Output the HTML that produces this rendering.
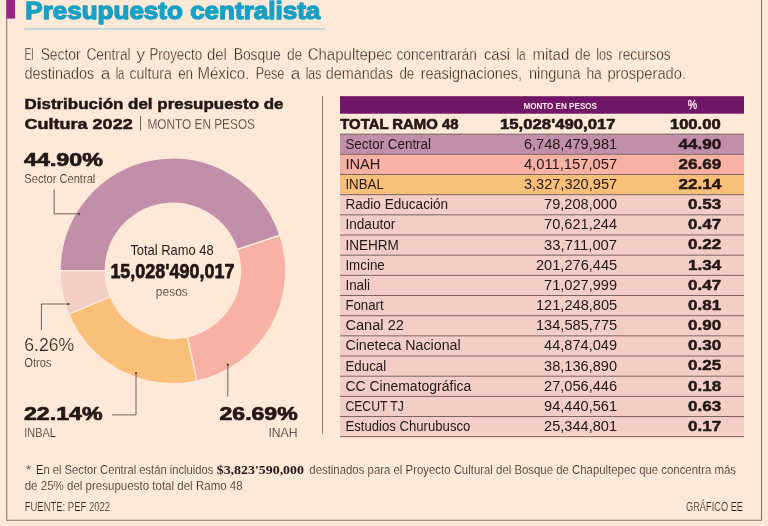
<!DOCTYPE html>
<html lang="es"><head><meta charset="utf-8"><title>Presupuesto centralista</title>
<style>html,body{margin:0;padding:0;background:#fee8d8;}svg{display:block}text{white-space:pre}</style></head>
<body><svg width="768" height="526" viewBox="0 0 768 526">
<rect x="0" y="0" width="768" height="526" fill="#fee8d8"/>
<path d="M6.7 0 V520.25 H761.5 V0" fill="none" stroke="#8f7868" stroke-width="1.1"/>
<rect x="6.5" y="0" width="8.6" height="18.6" fill="#982488"/>
<text x="25.3" y="19.3" font-size="23.7" font-weight="700" fill="#16a0c4" font-family="'Liberation Sans', sans-serif" textLength="295" lengthAdjust="spacingAndGlyphs" stroke="#16a0c4" stroke-width="1.3" stroke-linejoin="round">Presupuesto centralista</text>
<rect x="24" y="28.1" width="301" height="1.7" fill="#bcd3d8"/>
<text y="60.3" font-size="17.2" font-weight="400" fill="#2e2420" font-family="'Liberation Sans', sans-serif" stroke="#fee8d8" stroke-width="0.36" stroke-linejoin="round"><tspan x="24.4" textLength="9.2" lengthAdjust="spacingAndGlyphs">El</tspan> <tspan x="40.65" textLength="39.95" lengthAdjust="spacingAndGlyphs">Sector</tspan> <tspan x="86.4" textLength="44.2" lengthAdjust="spacingAndGlyphs">Central</tspan> <tspan x="136.4">y</tspan> <tspan x="149.4" textLength="52.7" lengthAdjust="spacingAndGlyphs">Proyecto</tspan> <tspan x="206.9" textLength="19.95" lengthAdjust="spacingAndGlyphs">del</tspan> <tspan x="233.65" textLength="46.95" lengthAdjust="spacingAndGlyphs">Bosque</tspan> <tspan x="286.9" textLength="15.45" lengthAdjust="spacingAndGlyphs">de</tspan> <tspan x="307.65" textLength="84.45" lengthAdjust="spacingAndGlyphs">Chapultepec</tspan> <tspan x="396.4" textLength="80.45" lengthAdjust="spacingAndGlyphs">concentrarán</tspan> <tspan x="483.9" textLength="26.2" lengthAdjust="spacingAndGlyphs">casi</tspan> <tspan x="516.4" textLength="9.2" lengthAdjust="spacingAndGlyphs">la</tspan> <tspan x="532.4" textLength="36.95" lengthAdjust="spacingAndGlyphs">mitad</tspan> <tspan x="574.9" textLength="15.7" lengthAdjust="spacingAndGlyphs">de</tspan> <tspan x="596.15" textLength="16.2" lengthAdjust="spacingAndGlyphs">los</tspan> <tspan x="618.15" textLength="52.45" lengthAdjust="spacingAndGlyphs">recursos</tspan></text>
<text y="79.4" font-size="17.2" font-weight="400" fill="#2e2420" font-family="'Liberation Sans', sans-serif" stroke="#fee8d8" stroke-width="0.36" stroke-linejoin="round"><tspan x="24.4" textLength="69.95" lengthAdjust="spacingAndGlyphs">destinados</tspan> <tspan x="100.65">a</tspan> <tspan x="115.65" textLength="8.7" lengthAdjust="spacingAndGlyphs">la</tspan> <tspan x="129.4" textLength="42.45" lengthAdjust="spacingAndGlyphs">cultura</tspan> <tspan x="178.15" textLength="14.95" lengthAdjust="spacingAndGlyphs">en</tspan> <tspan x="197.4" textLength="51.95" lengthAdjust="spacingAndGlyphs">México.</tspan> <tspan x="255.65" textLength="28.7" lengthAdjust="spacingAndGlyphs">Pese</tspan> <tspan x="290.65">a</tspan> <tspan x="305.65" textLength="15.7" lengthAdjust="spacingAndGlyphs">las</tspan> <tspan x="325.65" textLength="67.45" lengthAdjust="spacingAndGlyphs">demandas</tspan> <tspan x="399.4" textLength="14.95" lengthAdjust="spacingAndGlyphs">de</tspan> <tspan x="420.65" textLength="101.45" lengthAdjust="spacingAndGlyphs">reasignaciones,</tspan> <tspan x="528.9" textLength="51.7" lengthAdjust="spacingAndGlyphs">ninguna</tspan> <tspan x="586.4" textLength="15.45" lengthAdjust="spacingAndGlyphs">ha</tspan> <tspan x="607.4" textLength="78.7" lengthAdjust="spacingAndGlyphs">prosperado.</tspan></text>
<text x="24.5" y="109" font-size="15.4" font-weight="700" fill="#231815" font-family="'Liberation Sans', sans-serif" textLength="259" lengthAdjust="spacingAndGlyphs" stroke="#231815" stroke-width="0.5" stroke-linejoin="round">Distribución del presupuesto de</text>
<text x="24.5" y="128.6" font-size="15.4" font-weight="700" fill="#231815" font-family="'Liberation Sans', sans-serif" textLength="108.2" lengthAdjust="spacingAndGlyphs" stroke="#231815" stroke-width="0.5" stroke-linejoin="round">Cultura 2022</text>
<line x1="140.5" y1="116" x2="140.5" y2="130.5" stroke="#4d403b" stroke-width="0.8"/>
<text x="147.4" y="128.8" font-size="14.3" font-weight="400" fill="#2e2420" font-family="'Liberation Sans', sans-serif" textLength="107.6" lengthAdjust="spacingAndGlyphs" stroke="#fee8d8" stroke-width="0.3" stroke-linejoin="round">MONTO EN PESOS</text>
<line x1="322.6" y1="96.2" x2="322.6" y2="434.2" stroke="#7d6260" stroke-width="0.9"/>
<path d="M60.05 270.80 A112.85 112.85 0 0 1 280.02 235.28 L237.02 249.54 A67.55 67.55 0 0 0 105.35 270.80 Z" fill="#c28fab" stroke="#fee8d8" stroke-width="1.4"/>
<path d="M280.02 235.28 A112.85 112.85 0 0 1 196.84 381.08 L187.23 336.81 A67.55 67.55 0 0 0 237.02 249.54 Z" fill="#f7b1a5" stroke="#fee8d8" stroke-width="1.4"/>
<path d="M196.84 381.08 A112.85 112.85 0 0 1 68.67 314.06 L110.51 296.69 A67.55 67.55 0 0 0 187.23 336.81 Z" fill="#fac07a" stroke="#fee8d8" stroke-width="1.4"/>
<path d="M68.67 314.06 A112.85 112.85 0 0 1 60.05 270.80 L105.35 270.80 A67.55 67.55 0 0 0 110.51 296.69 Z" fill="#f2cec7" stroke="#fee8d8" stroke-width="1.4"/>
<text x="130.4" y="255.4" font-size="14.5" font-weight="400" fill="#231815" font-family="'Liberation Sans', sans-serif" textLength="83.3" lengthAdjust="spacingAndGlyphs">Total Ramo 48</text>
<text x="110.4" y="278.2" font-size="20.9" font-weight="700" fill="#231815" font-family="'Liberation Sans', sans-serif" textLength="124" lengthAdjust="spacingAndGlyphs" stroke="#231815" stroke-width="0.75" stroke-linejoin="round">15,028'490,017</text>
<text x="155.8" y="296.2" font-size="12" font-weight="400" fill="#2e2420" font-family="'Liberation Sans', sans-serif" textLength="32" lengthAdjust="spacingAndGlyphs" stroke="#fee8d8" stroke-width="0.2" stroke-linejoin="round">pesos</text>
<text x="24" y="166.1" font-size="18.3" font-weight="700" fill="#231815" font-family="'Liberation Sans', sans-serif" textLength="79" lengthAdjust="spacingAndGlyphs" stroke="#231815" stroke-width="0.7" stroke-linejoin="round">44.90%</text>
<text x="24.3" y="182.7" font-size="12.8" font-weight="400" fill="#2e2420" font-family="'Liberation Sans', sans-serif" textLength="71" lengthAdjust="spacingAndGlyphs" stroke="#fee8d8" stroke-width="0.2" stroke-linejoin="round">Sector Central</text>
<text x="24.3" y="350.6" font-size="17.6" font-weight="400" fill="#2e2420" font-family="'Liberation Sans', sans-serif" textLength="50" lengthAdjust="spacingAndGlyphs" stroke="#fee8d8" stroke-width="0.2" stroke-linejoin="round">6.26%</text>
<text x="24.3" y="366.8" font-size="12.5" font-weight="400" fill="#2e2420" font-family="'Liberation Sans', sans-serif" textLength="27.2" lengthAdjust="spacingAndGlyphs" stroke="#fee8d8" stroke-width="0.2" stroke-linejoin="round">Otros</text>
<text x="24" y="420.2" font-size="18.3" font-weight="700" fill="#231815" font-family="'Liberation Sans', sans-serif" textLength="78.5" lengthAdjust="spacingAndGlyphs" stroke="#231815" stroke-width="0.7" stroke-linejoin="round">22.14%</text>
<text x="24.3" y="437.2" font-size="12.2" font-weight="400" fill="#2e2420" font-family="'Liberation Sans', sans-serif" textLength="31.4" lengthAdjust="spacingAndGlyphs" stroke="#fee8d8" stroke-width="0.2" stroke-linejoin="round">INBAL</text>
<text x="219.5" y="420.3" font-size="18.3" font-weight="700" fill="#231815" font-family="'Liberation Sans', sans-serif" textLength="78.2" lengthAdjust="spacingAndGlyphs" stroke="#231815" stroke-width="0.7" stroke-linejoin="round">26.69%</text>
<text x="268.4" y="437.4" font-size="12.2" font-weight="400" fill="#2e2420" font-family="'Liberation Sans', sans-serif" textLength="29.1" lengthAdjust="spacingAndGlyphs" stroke="#fee8d8" stroke-width="0.2" stroke-linejoin="round">INAH</text>
<path d="M54.2 189.7 V213.8 H79" fill="none" stroke="#4d403b" stroke-width="0.8"/><circle cx="79" cy="213.8" r="1.1" fill="#4d403b"/>
<path d="M41.4 330 V304 H68.5" fill="none" stroke="#4d403b" stroke-width="0.8"/><circle cx="68.5" cy="304" r="1.1" fill="#4d403b"/>
<path d="M112.2 414.9 H136 V373.2" fill="none" stroke="#4d403b" stroke-width="0.8"/><circle cx="136" cy="373.2" r="1.1" fill="#4d403b"/>
<path d="M227.8 396.6 V364.7" fill="none" stroke="#4d403b" stroke-width="0.8"/><circle cx="227.8" cy="364.7" r="1.1" fill="#4d403b"/>
<rect x="340" y="96.2" width="404" height="17.5" fill="#701867"/>
<text x="523.4" y="108.9" font-size="9" font-weight="700" fill="#fdeef2" font-family="'Liberation Sans', sans-serif" textLength="73.6" lengthAdjust="spacingAndGlyphs">MONTO EN PESOS</text>
<text x="687.8" y="108.9" font-size="12" font-weight="400" fill="#fdeef2" font-family="'Liberation Sans', sans-serif" textLength="9.4" lengthAdjust="spacingAndGlyphs" stroke="#fdeef2" stroke-width="0.3" stroke-linejoin="round">%</text>
<text x="340.3" y="128.65" font-size="14.6" font-weight="700" fill="#231815" font-family="'Liberation Sans', sans-serif" textLength="118.2" lengthAdjust="spacingAndGlyphs" stroke="#231815" stroke-width="0.6" stroke-linejoin="round">TOTAL RAMO 48</text>
<text x="500" y="128.65" font-size="14.6" font-weight="700" fill="#231815" font-family="'Liberation Sans', sans-serif" textLength="115.6" lengthAdjust="spacingAndGlyphs" stroke="#231815" stroke-width="0.6" stroke-linejoin="round">15,028'490,017</text>
<text x="669.9" y="128.65" font-size="14.6" font-weight="700" fill="#231815" font-family="'Liberation Sans', sans-serif" textLength="50.8" lengthAdjust="spacingAndGlyphs" stroke="#231815" stroke-width="0.6" stroke-linejoin="round">100.00</text>
<rect x="340" y="134.15" width="404" height="20.17" fill="#c28fab"/>
<rect x="340" y="154.32" width="404" height="20.17" fill="#f7b1a5"/>
<rect x="340" y="174.49" width="404" height="20.17" fill="#fac07a"/>
<rect x="340" y="194.66" width="404" height="20.17" fill="#f2cec7"/>
<rect x="340" y="214.83" width="404" height="20.17" fill="#f2cec7"/>
<rect x="340" y="235.00" width="404" height="20.17" fill="#f2cec7"/>
<rect x="340" y="255.17" width="404" height="20.17" fill="#f2cec7"/>
<rect x="340" y="275.34" width="404" height="20.17" fill="#f2cec7"/>
<rect x="340" y="295.51" width="404" height="20.17" fill="#f2cec7"/>
<rect x="340" y="315.68" width="404" height="20.17" fill="#f2cec7"/>
<rect x="340" y="335.85" width="404" height="20.17" fill="#f2cec7"/>
<rect x="340" y="356.02" width="404" height="20.17" fill="#f2cec7"/>
<rect x="340" y="376.19" width="404" height="20.17" fill="#f2cec7"/>
<rect x="340" y="396.36" width="404" height="20.17" fill="#f2cec7"/>
<rect x="340" y="416.53" width="404" height="20.17" fill="#f2cec7"/>
<line x1="340" y1="134.15" x2="744" y2="134.15" stroke="#7d6260" stroke-width="1"/>
<line x1="340" y1="154.32" x2="744" y2="154.32" stroke="#7d6260" stroke-width="1"/>
<line x1="340" y1="174.49" x2="744" y2="174.49" stroke="#7d6260" stroke-width="1"/>
<line x1="340" y1="194.66" x2="744" y2="194.66" stroke="#7d6260" stroke-width="1"/>
<line x1="340" y1="214.83" x2="744" y2="214.83" stroke="#7d6260" stroke-width="1"/>
<line x1="340" y1="235.00" x2="744" y2="235.00" stroke="#7d6260" stroke-width="1"/>
<line x1="340" y1="255.17" x2="744" y2="255.17" stroke="#7d6260" stroke-width="1"/>
<line x1="340" y1="275.34" x2="744" y2="275.34" stroke="#7d6260" stroke-width="1"/>
<line x1="340" y1="295.51" x2="744" y2="295.51" stroke="#7d6260" stroke-width="1"/>
<line x1="340" y1="315.68" x2="744" y2="315.68" stroke="#7d6260" stroke-width="1"/>
<line x1="340" y1="335.85" x2="744" y2="335.85" stroke="#7d6260" stroke-width="1"/>
<line x1="340" y1="356.02" x2="744" y2="356.02" stroke="#7d6260" stroke-width="1"/>
<line x1="340" y1="376.19" x2="744" y2="376.19" stroke="#7d6260" stroke-width="1"/>
<line x1="340" y1="396.36" x2="744" y2="396.36" stroke="#7d6260" stroke-width="1"/>
<line x1="340" y1="416.53" x2="744" y2="416.53" stroke="#7d6260" stroke-width="1"/>
<line x1="340" y1="436.70" x2="744" y2="436.70" stroke="#7d6260" stroke-width="1"/>
<text x="345.4" y="148.75" font-size="14" font-weight="400" fill="#231815" font-family="'Liberation Sans', sans-serif" textLength="85.6" lengthAdjust="spacingAndGlyphs">Sector Central</text>
<text x="523.9" y="148.75" font-size="14" font-weight="400" fill="#231815" font-family="'Liberation Sans', sans-serif" textLength="93.2" lengthAdjust="spacingAndGlyphs">6,748,479,981</text>
<text x="678.4" y="148.60" font-size="14.8" font-weight="700" fill="#231815" font-family="'Liberation Sans', sans-serif" textLength="42.8" lengthAdjust="spacingAndGlyphs" stroke="#231815" stroke-width="0.45" stroke-linejoin="round">44.90</text>
<text x="345.4" y="168.92" font-size="14" font-weight="400" fill="#231815" font-family="'Liberation Sans', sans-serif" textLength="35.0" lengthAdjust="spacingAndGlyphs">INAH</text>
<text x="523.9" y="168.92" font-size="14" font-weight="400" fill="#231815" font-family="'Liberation Sans', sans-serif" textLength="93.2" lengthAdjust="spacingAndGlyphs">4,011,157,057</text>
<text x="678.4" y="168.77" font-size="14.8" font-weight="700" fill="#231815" font-family="'Liberation Sans', sans-serif" textLength="42.8" lengthAdjust="spacingAndGlyphs" stroke="#231815" stroke-width="0.45" stroke-linejoin="round">26.69</text>
<text x="345.4" y="189.09" font-size="14" font-weight="400" fill="#231815" font-family="'Liberation Sans', sans-serif" textLength="38.4" lengthAdjust="spacingAndGlyphs">INBAL</text>
<text x="523.9" y="189.09" font-size="14" font-weight="400" fill="#231815" font-family="'Liberation Sans', sans-serif" textLength="93.2" lengthAdjust="spacingAndGlyphs">3,327,320,957</text>
<text x="678.4" y="188.94" font-size="14.8" font-weight="700" fill="#231815" font-family="'Liberation Sans', sans-serif" textLength="42.8" lengthAdjust="spacingAndGlyphs" stroke="#231815" stroke-width="0.45" stroke-linejoin="round">22.14</text>
<text x="345.4" y="209.26" font-size="14" font-weight="400" fill="#231815" font-family="'Liberation Sans', sans-serif" textLength="102.7" lengthAdjust="spacingAndGlyphs">Radio Educación</text>
<text x="544.1" y="209.26" font-size="14" font-weight="400" fill="#231815" font-family="'Liberation Sans', sans-serif" textLength="73.0" lengthAdjust="spacingAndGlyphs">79,208,000</text>
<text x="688.0" y="209.11" font-size="14.8" font-weight="700" fill="#231815" font-family="'Liberation Sans', sans-serif" textLength="33.2" lengthAdjust="spacingAndGlyphs" stroke="#231815" stroke-width="0.45" stroke-linejoin="round">0.53</text>
<text x="345.4" y="229.43" font-size="14" font-weight="400" fill="#231815" font-family="'Liberation Sans', sans-serif" textLength="50.0" lengthAdjust="spacingAndGlyphs">Indautor</text>
<text x="544.1" y="229.43" font-size="14" font-weight="400" fill="#231815" font-family="'Liberation Sans', sans-serif" textLength="73.0" lengthAdjust="spacingAndGlyphs">70,621,244</text>
<text x="688.0" y="229.28" font-size="14.8" font-weight="700" fill="#231815" font-family="'Liberation Sans', sans-serif" textLength="33.2" lengthAdjust="spacingAndGlyphs" stroke="#231815" stroke-width="0.45" stroke-linejoin="round">0.47</text>
<text x="345.4" y="249.60" font-size="14" font-weight="400" fill="#231815" font-family="'Liberation Sans', sans-serif" textLength="53.5" lengthAdjust="spacingAndGlyphs">INEHRM</text>
<text x="544.1" y="249.60" font-size="14" font-weight="400" fill="#231815" font-family="'Liberation Sans', sans-serif" textLength="73.0" lengthAdjust="spacingAndGlyphs">33,711,007</text>
<text x="688.0" y="249.45" font-size="14.8" font-weight="700" fill="#231815" font-family="'Liberation Sans', sans-serif" textLength="33.2" lengthAdjust="spacingAndGlyphs" stroke="#231815" stroke-width="0.45" stroke-linejoin="round">0.22</text>
<text x="345.4" y="269.77" font-size="14" font-weight="400" fill="#231815" font-family="'Liberation Sans', sans-serif" textLength="39.4" lengthAdjust="spacingAndGlyphs">Imcine</text>
<text x="536.0" y="269.77" font-size="14" font-weight="400" fill="#231815" font-family="'Liberation Sans', sans-serif" textLength="81.2" lengthAdjust="spacingAndGlyphs">201,276,445</text>
<text x="688.0" y="269.62" font-size="14.8" font-weight="700" fill="#231815" font-family="'Liberation Sans', sans-serif" textLength="33.2" lengthAdjust="spacingAndGlyphs" stroke="#231815" stroke-width="0.45" stroke-linejoin="round">1.34</text>
<text x="345.4" y="289.94" font-size="14" font-weight="400" fill="#231815" font-family="'Liberation Sans', sans-serif" textLength="24.7" lengthAdjust="spacingAndGlyphs">Inali</text>
<text x="544.1" y="289.94" font-size="14" font-weight="400" fill="#231815" font-family="'Liberation Sans', sans-serif" textLength="73.0" lengthAdjust="spacingAndGlyphs">71,027,999</text>
<text x="688.0" y="289.79" font-size="14.8" font-weight="700" fill="#231815" font-family="'Liberation Sans', sans-serif" textLength="33.2" lengthAdjust="spacingAndGlyphs" stroke="#231815" stroke-width="0.45" stroke-linejoin="round">0.47</text>
<text x="345.4" y="310.11" font-size="14" font-weight="400" fill="#231815" font-family="'Liberation Sans', sans-serif" textLength="38.2" lengthAdjust="spacingAndGlyphs">Fonart</text>
<text x="536.0" y="310.11" font-size="14" font-weight="400" fill="#231815" font-family="'Liberation Sans', sans-serif" textLength="81.2" lengthAdjust="spacingAndGlyphs">121,248,805</text>
<text x="688.0" y="309.96" font-size="14.8" font-weight="700" fill="#231815" font-family="'Liberation Sans', sans-serif" textLength="33.2" lengthAdjust="spacingAndGlyphs" stroke="#231815" stroke-width="0.45" stroke-linejoin="round">0.81</text>
<text x="345.4" y="330.28" font-size="14" font-weight="400" fill="#231815" font-family="'Liberation Sans', sans-serif" textLength="58.5" lengthAdjust="spacingAndGlyphs">Canal 22</text>
<text x="536.0" y="330.28" font-size="14" font-weight="400" fill="#231815" font-family="'Liberation Sans', sans-serif" textLength="81.2" lengthAdjust="spacingAndGlyphs">134,585,775</text>
<text x="688.0" y="330.13" font-size="14.8" font-weight="700" fill="#231815" font-family="'Liberation Sans', sans-serif" textLength="33.2" lengthAdjust="spacingAndGlyphs" stroke="#231815" stroke-width="0.45" stroke-linejoin="round">0.90</text>
<text x="345.4" y="350.45" font-size="14" font-weight="400" fill="#231815" font-family="'Liberation Sans', sans-serif" textLength="115.2" lengthAdjust="spacingAndGlyphs">Cineteca Nacional</text>
<text x="544.1" y="350.45" font-size="14" font-weight="400" fill="#231815" font-family="'Liberation Sans', sans-serif" textLength="73.0" lengthAdjust="spacingAndGlyphs">44,874,049</text>
<text x="688.0" y="350.30" font-size="14.8" font-weight="700" fill="#231815" font-family="'Liberation Sans', sans-serif" textLength="33.2" lengthAdjust="spacingAndGlyphs" stroke="#231815" stroke-width="0.45" stroke-linejoin="round">0.30</text>
<text x="345.4" y="370.62" font-size="14" font-weight="400" fill="#231815" font-family="'Liberation Sans', sans-serif" textLength="40.8" lengthAdjust="spacingAndGlyphs">Educal</text>
<text x="544.1" y="370.62" font-size="14" font-weight="400" fill="#231815" font-family="'Liberation Sans', sans-serif" textLength="73.0" lengthAdjust="spacingAndGlyphs">38,136,890</text>
<text x="688.0" y="370.47" font-size="14.8" font-weight="700" fill="#231815" font-family="'Liberation Sans', sans-serif" textLength="33.2" lengthAdjust="spacingAndGlyphs" stroke="#231815" stroke-width="0.45" stroke-linejoin="round">0.25</text>
<text x="345.4" y="390.79" font-size="14" font-weight="400" fill="#231815" font-family="'Liberation Sans', sans-serif" textLength="125.9" lengthAdjust="spacingAndGlyphs">CC Cinematográfica</text>
<text x="544.1" y="390.79" font-size="14" font-weight="400" fill="#231815" font-family="'Liberation Sans', sans-serif" textLength="73.0" lengthAdjust="spacingAndGlyphs">27,056,446</text>
<text x="688.0" y="390.64" font-size="14.8" font-weight="700" fill="#231815" font-family="'Liberation Sans', sans-serif" textLength="33.2" lengthAdjust="spacingAndGlyphs" stroke="#231815" stroke-width="0.45" stroke-linejoin="round">0.18</text>
<text x="345.4" y="410.96" font-size="14" font-weight="400" fill="#231815" font-family="'Liberation Sans', sans-serif" textLength="58.5" lengthAdjust="spacingAndGlyphs">CECUT TJ</text>
<text x="544.1" y="410.96" font-size="14" font-weight="400" fill="#231815" font-family="'Liberation Sans', sans-serif" textLength="73.0" lengthAdjust="spacingAndGlyphs">94,440,561</text>
<text x="688.0" y="410.81" font-size="14.8" font-weight="700" fill="#231815" font-family="'Liberation Sans', sans-serif" textLength="33.2" lengthAdjust="spacingAndGlyphs" stroke="#231815" stroke-width="0.45" stroke-linejoin="round">0.63</text>
<text x="345.4" y="431.13" font-size="14" font-weight="400" fill="#231815" font-family="'Liberation Sans', sans-serif" textLength="125.0" lengthAdjust="spacingAndGlyphs">Estudios Churubusco</text>
<text x="544.1" y="431.13" font-size="14" font-weight="400" fill="#231815" font-family="'Liberation Sans', sans-serif" textLength="73.0" lengthAdjust="spacingAndGlyphs">25,344,801</text>
<text x="688.0" y="430.98" font-size="14.8" font-weight="700" fill="#231815" font-family="'Liberation Sans', sans-serif" textLength="33.2" lengthAdjust="spacingAndGlyphs" stroke="#231815" stroke-width="0.45" stroke-linejoin="round">0.17</text>
<text x="26" y="474.3" font-size="13.5" font-weight="400" fill="#2e2420" font-family="'Liberation Sans', sans-serif" stroke="#fee8d8" stroke-width="0.2" stroke-linejoin="round">*</text>
<text x="36" y="474.3" font-size="13.6" font-weight="400" fill="#2e2420" font-family="'Liberation Sans', sans-serif" textLength="177.3" lengthAdjust="spacingAndGlyphs" stroke="#fee8d8" stroke-width="0.2" stroke-linejoin="round">En el Sector Central están incluidos</text>
<text x="216.7" y="474.3" font-size="13.2" font-weight="700" fill="#231815" font-family="'Liberation Serif', serif" textLength="87.3" lengthAdjust="spacingAndGlyphs">$3,823'590,000</text>
<text x="309.3" y="474.3" font-size="13.6" font-weight="400" fill="#2e2420" font-family="'Liberation Sans', sans-serif" textLength="426.7" lengthAdjust="spacingAndGlyphs" stroke="#fee8d8" stroke-width="0.2" stroke-linejoin="round">destinados para el Proyecto Cultural del Bosque de Chapultepec que concentra más</text>
<text x="24.7" y="490" font-size="13.6" font-weight="400" fill="#2e2420" font-family="'Liberation Sans', sans-serif" textLength="218" lengthAdjust="spacingAndGlyphs" stroke="#fee8d8" stroke-width="0.2" stroke-linejoin="round">de 25% del presupuesto total del Ramo 48</text>
<text x="24.7" y="511" font-size="12.2" font-weight="400" fill="#2e2420" font-family="'Liberation Sans', sans-serif" textLength="85.3" lengthAdjust="spacingAndGlyphs" stroke="#fee8d8" stroke-width="0.2" stroke-linejoin="round">FUENTE: PEF 2022</text>
<text x="686" y="511" font-size="12.2" font-weight="400" fill="#2e2420" font-family="'Liberation Sans', sans-serif" textLength="57" lengthAdjust="spacingAndGlyphs" stroke="#fee8d8" stroke-width="0.2" stroke-linejoin="round">GRÁFICO EE</text>
</svg></body></html>
